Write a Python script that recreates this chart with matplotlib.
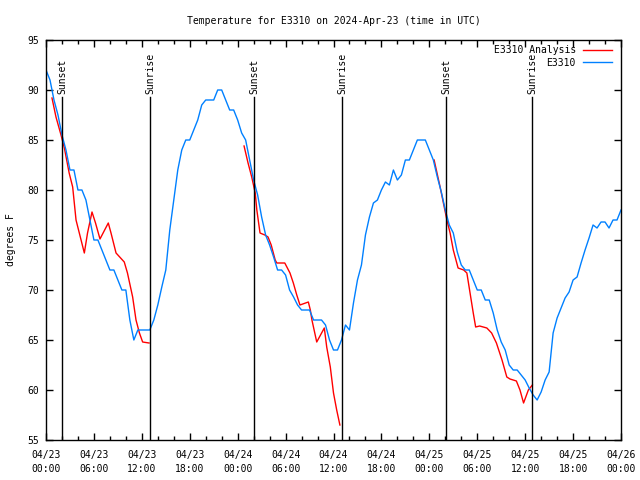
import numpy as np
import pandas as pd
import matplotlib
matplotlib.use('Agg')
import matplotlib.pyplot as plt
import matplotlib.dates as mdates

# Observed temperature every 30 minutes from 04/23 00:00
obs_temp = [
    92, 91, 89, 87.5, 85.5, 84, 82, 82, 80, 80, 79, 77,
    75, 75, 74, 73, 72, 72, 71, 70, 70, 67, 65, 66,
    66, 66, 66, 67, 68.5, 70.3, 72, 76, 79, 82, 84, 85,
    85, 86, 87, 88.5, 89, 89, 89, 90, 90, 89, 88, 88,
    87, 85.7, 85, 83, 81, 79.5, 77.3, 75.5, 74.5, 73.3, 72, 72,
    71.5, 70, 69.3, 68.5, 68, 68, 68, 67, 67, 67, 66.5, 65,
    64, 64, 65, 66.5, 66, 68.7, 71, 72.5, 75.5, 77.3, 78.7, 79,
    80, 80.8, 80.5, 82, 81, 81.5, 83, 83, 84, 85, 85, 85,
    84, 83, 81.3, 79.8, 78, 76.5, 75.7, 73.8, 72.5, 72, 72, 71,
    70, 70, 69, 69, 67.7, 66, 64.8, 64, 62.5, 62, 62, 61.5,
    61, 60.2, 59.5, 59, 59.8, 61, 61.8, 65.7, 67.2, 68.2, 69.2, 69.8,
    71, 71.3, 72.7, 74, 75.2, 76.5, 76.2, 76.8, 76.8, 76.2, 77, 77,
    78,
]
obs_hours = [i * 0.5 for i in range(len(obs_temp))]

# Analysis (three nightly runs), hours from 04/23 00:00
ana1_hours = [0.75, 1.25, 1.88, 2.3, 2.9, 3.34, 3.76, 4.17, 4.8, 5.2, 5.76, 6.2,
              6.76, 7.8, 8.14, 8.77, 9.8, 10.2, 10.85, 11.27, 11.7, 12.1, 12.9]
ana1_temp = [89.2, 87.3, 85.5, 84.2, 81.7, 80.3, 77, 75.7, 73.7, 75.7, 77.8, 76.7,
             75.1, 76.7, 75.7, 73.7, 72.8, 71.7, 69.3, 67, 65.7, 64.8, 64.7]
ana2_hours = [24.8, 25.3, 25.76, 26.2, 26.4, 26.8, 27.4, 27.8, 28.2, 28.7, 28.9, 29.9,
              30.55, 30.97, 31.4, 31.8, 32.85, 33.1, 33.3, 33.9, 34.85, 35.15, 35.6,
              36.0, 36.4, 36.8]
ana2_temp = [84.4, 82.7, 81.3, 79.7, 78, 75.7, 75.5, 75.3, 74.5, 73, 72.7, 72.7,
             71.7, 70.7, 69.5, 68.5, 68.8, 68, 67, 64.8, 66.2, 64.3, 62.3,
             59.7, 58, 56.5]
ana3_hours = [48.6, 49.35, 50.2, 50.6, 51.0, 51.6, 52.3, 52.7, 53.1, 53.5, 53.8, 54.3,
              55.2, 55.8, 56.4, 57.1, 57.7, 58.1, 58.9, 59.35, 59.8, 60.4, 60.9]
ana3_temp = [83, 80.3, 77, 75.7, 74, 72.2, 72, 71.7, 69.7, 67.7, 66.3, 66.4,
             66.2, 65.7, 64.7, 63, 61.3, 61.1, 60.9, 60, 58.7, 60, 60.5]

sun_hours = [2.0, 13.05, 26.05, 37.05, 50.1, 60.9]
sun_labels = ['Sunset', 'Sunrise', 'Sunset', 'Sunrise', 'Sunset', 'Sunrise']

start = pd.Timestamp('2024-04-23 00:00')
def to_time(h):
    return start + pd.to_timedelta(np.array(h), unit='h')

plt.rcParams['font.family'] = 'DejaVu Sans Mono'
plt.rcParams['font.size'] = 7

fig = plt.figure(figsize=(6.4, 4.8), dpi=100)
ax = fig.add_axes([46 / 640, 1 - 440 / 480, 575 / 640, 400 / 480])

red = '#ff0000'
blue = '#0080ff'
ax.plot(to_time(ana1_hours), ana1_temp, color=red, lw=1.0, label='E3310 Analysis')
ax.plot(to_time(ana2_hours), ana2_temp, color=red, lw=1.0)
ax.plot(to_time(ana3_hours), ana3_temp, color=red, lw=1.0)
ax.plot(to_time(obs_hours), obs_temp, color=blue, lw=1.0, label='E3310')

for h, lab in zip(sun_hours, sun_labels):
    t = to_time([h])[0]
    ax.plot([t, t], [55, 89.3], color='black', lw=1.0)
    ax.text(t, 89.6, lab, rotation=90, ha='center', va='bottom')

ax.set_xlim(start, start + pd.Timedelta(hours=72))
ax.set_ylim(55, 95)
ax.set_yticks(range(55, 96, 5))
ax.xaxis.set_major_locator(mdates.HourLocator(byhour=[0, 6, 12, 18]))
ax.xaxis.set_minor_locator(mdates.HourLocator(interval=2))
ax.xaxis.set_major_formatter(mdates.DateFormatter('%m/%d\n%H:%M'))
for lab in ax.get_xticklabels():
    lab.set_linespacing(1.5)

ax.tick_params(which='both', direction='in', top=True, right=True, width=1.0)
ax.tick_params(which='major', length=5)
ax.tick_params(which='minor', length=3)
ax.tick_params(axis='x', pad=7)
ax.tick_params(axis='y', pad=5)
for s in ax.spines.values():
    s.set_linewidth(1.0)

ax.set_ylabel('degrees F', labelpad=8)
ax.set_title('Temperature for E3310 on 2024-Apr-23 (time in UTC)', fontsize=7, pad=11.8)

ax.legend(loc='upper right', bbox_to_anchor=(1 - 1 / 575, 1 + 3 / 400),
          frameon=False, markerfirst=False, handlelength=3.0,
          labelspacing=0.25, borderaxespad=0.55, borderpad=0.3, handletextpad=0.7)

fig.savefig('out.png', dpi=100)
